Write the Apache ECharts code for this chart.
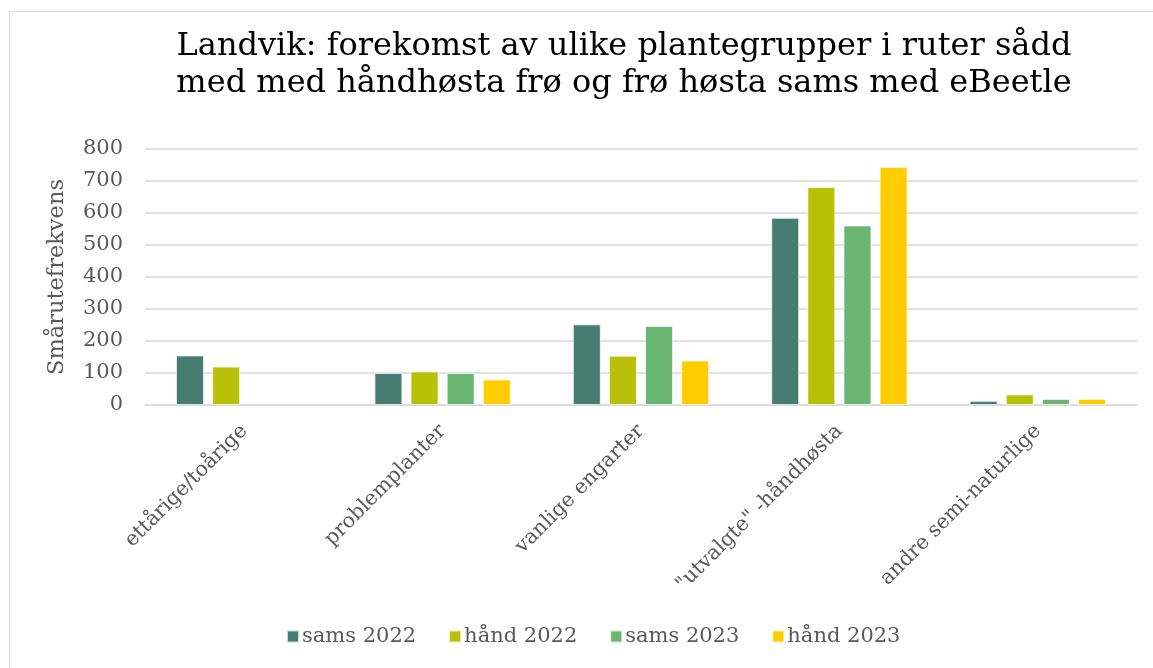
<!DOCTYPE html>
<html>
<head>
<meta charset="utf-8">
<script src="https://cdn.jsdelivr.net/npm/echarts@6/dist/echarts.min.js"></script>
<style>
  html, body { margin: 0; padding: 0; background: #fff; }
  #frame { position: absolute; left: 9px; top: 11px; width: 1160px; height: 680px; border: 1px solid #d9d9d9; box-sizing: border-box; }
  #chart { position: absolute; left: 0; top: 0; width: 1153px; height: 668px; }
</style>
</head>
<body>
<div id="frame"></div>
<div id="chart"></div>
<script>
// Plant group categories
const categories = ['ettårige/toårige', 'problemplanter', 'vanlige engarter', '"utvalgte" -håndhøsta', 'andre semi-naturlige'];

// Frequency per series (small-square counts)
const sams2022 = [155, 100, 252, 585, 13];
const haand2022 = [120, 105, 154, 681, 33];
const sams2023 = [null, 100, 247, 561, 19];
const haand2023 = [null, 80, 139, 744, 19];

const seriesNames = ['sams 2022', 'hånd 2022', 'sams 2023', 'hånd 2023'];
const seriesColors = ['#467c72', '#b8c107', '#69b572', '#ffcc00'];
const seriesData = [sams2022, haand2022, sams2023, haand2023];

const serif = '"DejaVu Serif", "Liberation Serif", serif';

const chart = echarts.init(document.getElementById('chart'), null, { renderer: 'canvas' });

chart.setOption({
  backgroundColor: 'transparent',
  animation: false,
  title: {
    text: 'Landvik: forekomst av ulike plantegrupper i ruter sådd\nmed med håndhøsta frø og frø høsta sams med eBeetle',
    left: 619,
    top: 23,
    textAlign: 'center',
    textStyle: { fontFamily: serif, fontSize: 32, fontWeight: 'normal', color: '#000', lineHeight: 37 }
  },
  legend: {
    bottom: 16,
    left: 281,
    itemWidth: 12,
    itemHeight: 12,
    itemGap: 32,
    icon: 'rect',
    textStyle: { fontFamily: serif, fontSize: 21, color: '#595959', padding: [0, 0, 0, -2] },
    data: seriesNames
  },
  grid: { left: 145, right: 16, top: 149, bottom: 263, containLabel: false },
  xAxis: {
    type: 'category',
    data: categories,
    axisLine: { lineStyle: { color: '#d9d9d9', width: 1.5 } },
    axisTick: { show: false },
    axisLabel: {
      rotate: 45,
      interval: 0,
      margin: 23,
      fontFamily: serif,
      fontSize: 20.5,
      color: '#595959'
    }
  },
  yAxis: {
    type: 'value',
    min: 0,
    max: 800,
    interval: 100,
    name: 'Smårutefrekvens',
    nameLocation: 'middle',
    nameRotate: 90,
    nameGap: 76,
    nameTextStyle: { fontFamily: serif, fontSize: 22.5, color: '#595959', padding: [0, 0, 0, 0] },
    axisLine: { show: false },
    axisTick: { show: false },
    axisLabel: { margin: 22, fontFamily: serif, fontSize: 21, color: '#595959' },
    splitLine: { lineStyle: { color: '#d9d9d9', width: 1.5 } }
  },
  series: seriesNames.map((name, i) => ({
    name: name,
    type: 'bar',
    data: seriesData[i],
    barWidth: 28,
    barGap: '29%',
    itemStyle: { color: seriesColors[i], borderColor: 'rgba(255,255,255,0.7)', borderWidth: 1 }
  }))
});
</script>
</body>
</html>
